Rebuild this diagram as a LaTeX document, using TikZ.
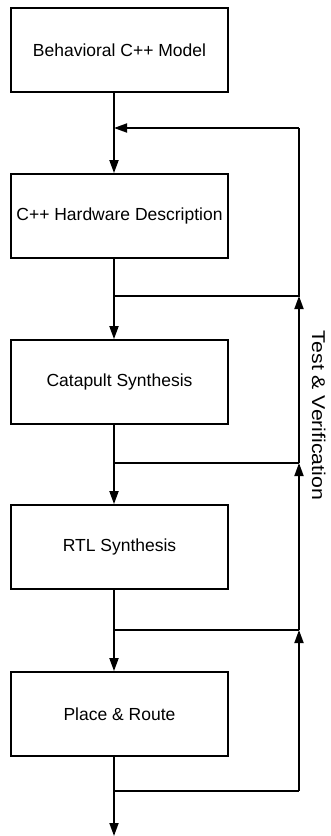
\documentclass[tikz,border=0pt]{standalone}
\usepackage{fontspec}
\setmainfont{Liberation Sans}
\usetikzlibrary{arrows.meta}
\begin{document}
\begin{tikzpicture}[x=1pt,y=-1pt,
  stage/.style={draw, line width=1.8pt, minimum width=217pt, minimum height=84pt,
    inner sep=0pt, font=\fontsize{17.5}{21}\selectfont},
  flow/.style={line width=1.8pt, -{Triangle[length=13pt,width=9pt]}},
  link/.style={line width=1.8pt}]
  \useasboundingbox (0,0) rectangle (331,836);

  % design stages
  \node[stage] (b1) at (119.5,50)  {Behavioral C++ Model};
  \node[stage] (b2) at (119.5,216) {C++ Hardware Description};
  \node[stage] (b3) at (119.5,382) {Catapult Synthesis};
  \node[stage] (b4) at (119.5,547) {RTL Synthesis};
  \node[stage] (b5) at (119.5,714) {Place \& Route};

  % junctions on the main flow and on the feedback rail
  \coordinate (j0) at (114,128);
  \coordinate (j1) at (114,296);
  \coordinate (j2) at (114,463);
  \coordinate (j3) at (114,630);
  \coordinate (j4) at (114,791);
  \coordinate (out) at (114,836);
  \coordinate (r0) at (299,128);
  \coordinate (r1) at (299,296);
  \coordinate (r2) at (299,463);
  \coordinate (r3) at (299,630);
  \coordinate (r4) at (299,791);

  % main flow
  \draw[flow] (b1.south -| j0) -- (j0 |- b2.north);
  \draw[flow] (b2.south -| j1) -- (j1 |- b3.north);
  \draw[flow] (b3.south -| j2) -- (j2 |- b4.north);
  \draw[flow] (b4.south -| j3) -- (j3 |- b5.north);
  \draw[flow] (b5.south -| j4) -- (out);

  % feedback loops
  \draw[link] (j1) -- (r1) -- (r0);
  \draw[flow] (r0) -- (j0);
  \draw[link] (j2) -- (r2);
  \draw[flow] (r2) -- (r1);
  \draw[link] (j3) -- (r3);
  \draw[flow] (r3) -- (r2);
  \draw[link] (j4) -- (r4);
  \draw[flow] (r4) -- (r3);

  \node[rotate=-90, anchor=base, inner sep=0pt, font=\fontsize{18.5}{22}\selectfont]
    (tv) at (312,415.5) {\scalebox{1.15}[1]{Test \& Verification}};
\end{tikzpicture}
\end{document}
